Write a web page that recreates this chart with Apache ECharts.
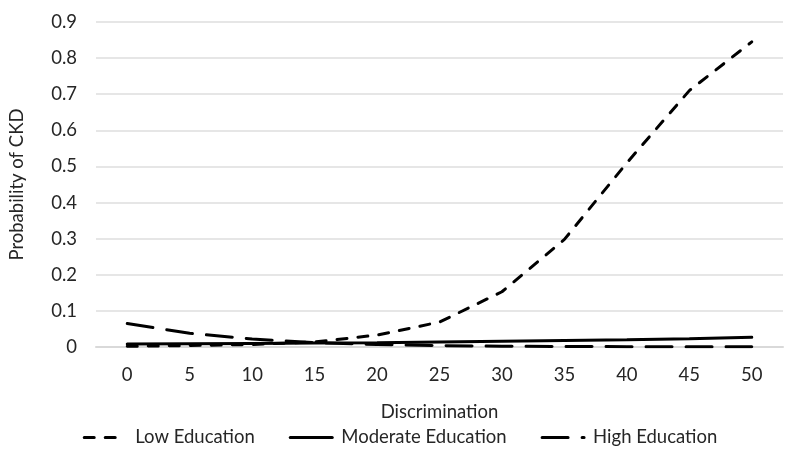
<!DOCTYPE html>
<html><head><meta charset="utf-8">
<script src="https://cdn.jsdelivr.net/npm/echarts@6/dist/echarts.min.js"></script>
<style>html,body{margin:0;padding:0;background:#fff}#c{width:800px;height:457px}</style>
</head><body><div id="c"></div>
<script>
var categories = ['0','5','10','15','20','25','30','35','40','45','50'];
var lowEdu = [0.002,0.004,0.007,0.014,0.033,0.069,0.153,0.298,0.51,0.71,0.845];
var modEdu = [0.008,0.009,0.010,0.011,0.012,0.014,0.016,0.018,0.020,0.023,0.027];
var highEdu = [0.065,0.038,0.022,0.012,0.007,0.004,0.002,0.0015,0.001,0.0007,0.0005];
var yTicks = {min:0,max:0.9,interval:0.1};
var font = 'Lato, "Open Sans", sans-serif';
var txt = '#262626';
var chart = echarts.init(document.getElementById('c'));
function ser(name, data, type, z){
  return {name:name,type:'line',data:data,symbol:'none',z:z,
    lineStyle:{color:'#000',width:3,type:type,cap:'round'},itemStyle:{color:'#000'}};
}
chart.setOption({
  animation:false,
  textStyle:{fontFamily:font},
  grid:{left:93,right:17,top:22,bottom:110},
  xAxis:{type:'category',data:categories,boundaryGap:true,
    name:'Discrimination',nameLocation:'middle',nameGap:56,
    nameTextStyle:{fontSize:18.5,color:txt,fontFamily:font},
    axisLine:{lineStyle:{color:'#d9d9d9',width:2}},axisTick:{show:false},
    axisLabel:{fontSize:18.5,color:txt,margin:19,fontFamily:font},
    splitLine:{show:false}},
  yAxis:{type:'value',min:yTicks.min,max:yTicks.max,interval:yTicks.interval,
    name:'Probability of CKD',nameLocation:'middle',nameGap:69,nameRotate:90,
    nameTextStyle:{fontSize:18.5,color:txt,fontFamily:font},
    axisLine:{show:false},axisTick:{show:false},
    axisLabel:{fontSize:18.5,color:txt,margin:19,fontFamily:font},
    splitLine:{lineStyle:{color:'#e6e6e6',width:2}}},
  legend:{bottom:5,left:'center',itemGap:34,itemWidth:42,itemHeight:12,
    itemStyle:{opacity:0},lineStyle:{width:3},
    textStyle:{fontSize:18.5,color:txt,fontFamily:font,padding:[0,0,0,4]},
    data:['Low Education','Moderate Education','High Education']},
  series:[
    ser('Low Education',lowEdu,[10,11],3),
    ser('Moderate Education',modEdu,'solid',2),
    ser('High Education',highEdu,[26,14],1)
  ]
});
</script></body></html>
